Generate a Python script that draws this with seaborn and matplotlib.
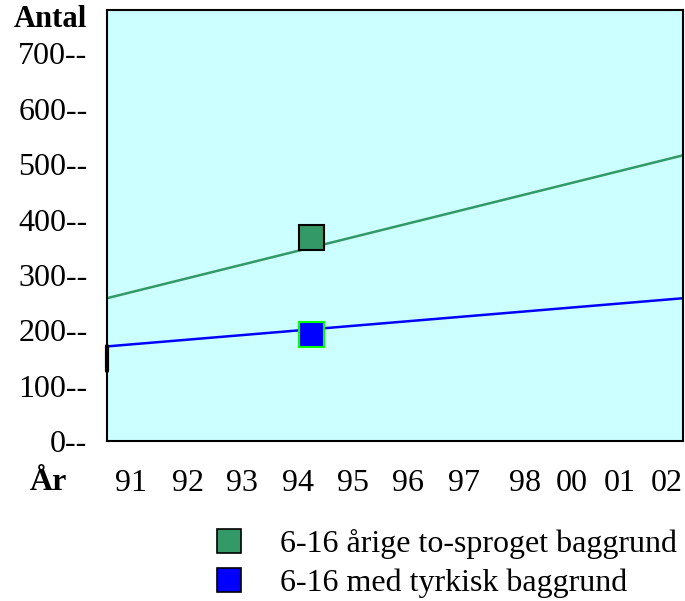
import pandas as pd
import matplotlib.pyplot as plt
import seaborn as sns
from matplotlib.lines import Line2D

# ticks and labels
year_labels = ["91", "92", "93", "94", "95", "96", "97", "98", "00", "01", "02"]
year_pos = [91, 92.02, 93.0, 94.0, 94.99, 95.98, 96.99, 98.1, 98.93, 99.8, 100.64]
y_ticks = [0, 100, 200, 300, 400, 500, 600, 700]

# trend lines (values at left / right edge of plot)
line_x = [90.56, 100.94]
green_line = [258, 516]
blue_line = [171, 258]

# the two measured points
point_x = 94.23
green_point = 368
blue_point = 193

# short dark stroke on the left axis
stroke_y = [127, 171]

series_names = ["6-16 årige to-sproget baggrund", "6-16 med tyrkisk baggrund"]

sns.set_style("white")
plt.rcParams['font.family'] = ['Liberation Serif', 'DejaVu Serif']
plt.rcParams['text.color'] = 'black'
plt.rcParams['xtick.color'] = 'black'
plt.rcParams['ytick.color'] = 'black'

fig = plt.figure(figsize=(6.85, 6.01), dpi=100)
ax = fig.add_axes([0.156, 0.266, 0.841, 0.717])
ax.set_facecolor("#CCFFFF")

df = pd.DataFrame({
    "x": line_x * 2,
    "y": green_line + blue_line,
    "serie": [series_names[0]] * 2 + [series_names[1]] * 2,
})
sns.lineplot(data=df, x="x", y="y", hue="serie", palette=["#339966", "#0000FF"],
             linewidth=1.8, legend=False, ax=ax)
ax.plot([line_x[0], line_x[0]], stroke_y, color="black", linewidth=3, clip_on=False)

ax.plot([point_x], [green_point], marker="s", markersize=18, color="#339966",
        markeredgecolor="black", markeredgewidth=1.5, linestyle="none")
ax.plot([point_x], [blue_point], marker="s", markersize=18, color="#0000FF",
        markeredgecolor="#00FF00", markeredgewidth=1.5, linestyle="none")

ax.set_xlim(line_x[0], line_x[1])
ax.set_ylim(0, 778)
ax.set_xticks(year_pos)
ax.set_xticklabels(year_labels)
ax.set_yticks(y_ticks)
ax.set_yticklabels([f"{v}--" for v in y_ticks])
ax.tick_params(axis="both", length=0, labelsize=23, labelcolor="black")
ax.tick_params(axis="y", pad=14)
ax.tick_params(axis="x", pad=20)
ax.set_xlabel("")
ax.set_ylabel("")
for s in ax.spines.values():
    s.set_linewidth(1.5)
    s.set_color("black")

fig.text(0.073, 0.967, "Antal", fontsize=22, fontweight="bold", ha="center", va="center")
fig.text(0.07, 0.198, "År", fontsize=23, fontweight="bold", ha="center", va="center")

handles = [
    Line2D([], [], marker="s", markersize=17, color="#339966", markeredgecolor="black",
           markeredgewidth=1.2, linestyle="none"),
    Line2D([], [], marker="s", markersize=17, color="#0000FF", markeredgecolor="black",
           markeredgewidth=1.2, linestyle="none"),
]
fig.legend(handles, series_names, loc="upper left", bbox_to_anchor=(0.288, 0.12),
           frameon=False, fontsize=23, handletextpad=0.6, labelspacing=0.3,
           borderaxespad=0, borderpad=0)

fig.savefig("out.png", dpi=100)
